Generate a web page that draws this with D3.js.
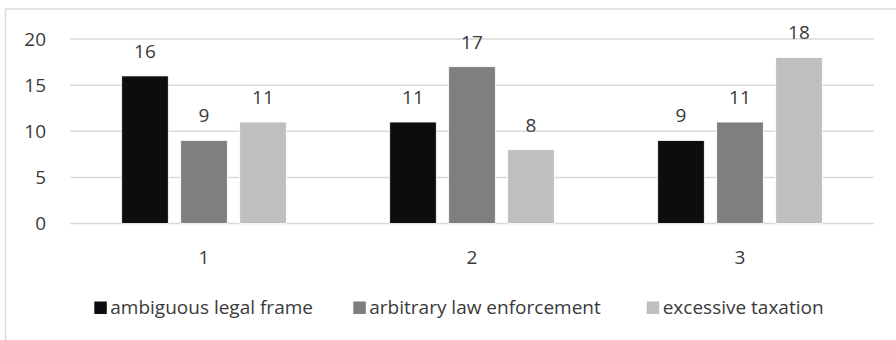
<!DOCTYPE html>
<html>
<head>
<meta charset="utf-8">
<script src="https://cdn.jsdelivr.net/npm/d3@7"></script>
<style>
  html, body { margin: 0; padding: 0; background: #fff; }
  svg { display: block; }
  text { font-family: "Open Sans", "Noto Sans", sans-serif; fill: #3a3a3a; }
</style>
</head>
<body>
<svg id="chart" width="896" height="340"></svg>
<script>
// Chart data
const categories = ["1", "2", "3"];
const seriesNames = ["ambiguous legal frame", "arbitrary law enforcement", "excessive taxation"];
const ambiguousLegalFrame = [16, 11, 9];
const arbitraryLawEnforcement = [9, 17, 11];
const excessiveTaxation = [11, 8, 18];
const yTicks = [0, 5, 10, 15, 20];

const seriesValues = [ambiguousLegalFrame, arbitraryLawEnforcement, excessiveTaxation];
const colors = ["#0d0d0d", "#7f7f7f", "#bfbfbf"];

const svg = d3.select("#chart");
const W = 896, H = 340;
const FS = 19;
const TXT = "#3a3a3a";
const plot = { left: 70, right: 874, top: 39, bottom: 223.5 };

// Outer frame
svg.append("rect")
  .attr("x", 5.5).attr("y", 9).attr("width", W + 10).attr("height", H + 10)
  .attr("fill", "none").attr("stroke", "#d9d9d9").attr("stroke-width", 1.5);

const x0 = d3.scaleBand().domain(categories).range([plot.left, plot.right]).padding(0);
const y = d3.scaleLinear().domain([0, 20]).range([plot.bottom, plot.top]);

// Gridlines
svg.append("g").selectAll("line").data(yTicks).join("line")
  .attr("x1", plot.left).attr("x2", plot.right)
  .attr("y1", d => y(d)).attr("y2", d => y(d))
  .attr("stroke", "#d9d9d9").attr("stroke-width", 1.5);

// Y axis labels
const yAxis = d3.axisLeft(y).tickValues(yTicks).tickSize(0).tickPadding(0);
const gy = svg.append("g").attr("transform", `translate(46,0)`).call(yAxis);
gy.select(".domain").remove();
gy.selectAll("text").attr("font-size", FS).style("font-family", '"Open Sans", sans-serif').attr("fill", TXT);

// X axis labels
const xAxis = d3.axisBottom(x0).tickSize(0).tickPadding(0);
const gx = svg.append("g").attr("transform", `translate(0,250)`).call(xAxis);
gx.select(".domain").remove();
gx.selectAll("text").attr("font-size", FS).style("font-family", '"Open Sans", sans-serif').attr("fill", TXT);

// Bars within each category
const barW = 46.6, barGap = 12.4;
const groupW = 3 * barW + 2 * barGap;
const x1 = d3.scaleBand().domain(d3.range(3)).range([0, groupW]).paddingInner(barGap / (barW + barGap)).paddingOuter(0);

const rows = categories.map((c, i) => ({ cat: c, vals: seriesValues.map((s, k) => ({ k, v: s[i] })) }));

const groups = svg.append("g").selectAll("g").data(rows).join("g")
  .attr("transform", d => `translate(${x0(d.cat) + (x0.bandwidth() - groupW) / 2},0)`);

groups.selectAll("rect").data(d => d.vals).join("rect")
  .attr("x", d => x1(d.k))
  .attr("width", x1.bandwidth())
  .attr("y", d => y(d.v))
  .attr("height", d => y(0) - y(d.v))
  .attr("fill", d => colors[d.k])
  .attr("stroke", "#ffffff").attr("stroke-width", 0.8);

groups.selectAll("text.val").data(d => d.vals).join("text")
  .attr("class", "val")
  .attr("x", d => x1(d.k) + x1.bandwidth() / 2)
  .attr("y", d => y(d.v) - 18)
  .attr("text-anchor", "middle")
  .attr("font-size", FS)
  .text(d => d.v);

// Legend
const legendX = [94.3, 353.3, 646.7];
const legend = svg.append("g").selectAll("g").data(seriesNames).join("g")
  .attr("transform", (d, i) => `translate(${legendX[i]},301.5)`);
legend.append("rect").attr("width", 12.5).attr("height", 12.5).attr("fill", (d, i) => colors[i]);
legend.append("text").attr("x", 16).attr("y", 12.5).attr("font-size", FS).text(d => d);
</script>
</body>
</html>
